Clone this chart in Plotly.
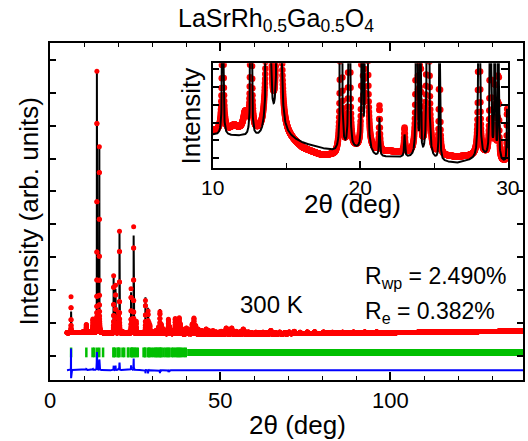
import numpy as np
import plotly.graph_objects as go

# ---------------- data ----------------
# Reflections: 2theta (deg) of the model, observed peak centre, heights above background, FWHM (deg)
peak_pos = [6.195, 10.68, 12.60, 13.78, 14.50, 18.70, 19.25, 20.12, 20.42, 21.30,
            23.00, 23.82, 24.07, 24.58, 25.37, 28.05, 28.82, 29.12, 29.36, 29.95,
            30.50, 31.20, 31.90, 32.30, 32.70, 33.30, 33.90, 34.80, 35.15, 35.60,
            36.20, 36.80, 37.60, 38.00, 38.30, 38.75, 39.40, 40.10, 40.60, 41.10,
            41.80, 42.30, 42.80, 43.50, 44.10, 44.60, 45.30, 45.90, 46.60, 47.30,
            47.90, 48.80, 49.60, 50.30, 51.00, 51.80, 52.60, 53.40, 54.10, 54.70,
            55.50, 56.20, 56.80, 57.60, 58.30, 59.30, 60.50, 61.60, 62.60, 63.60,
            64.90, 66.10, 67.50, 69.00, 70.30, 71.80, 73.50, 75.60, 77.80, 80.40,
            83.00, 86.00, 89.20, 92.50, 96.00]
obs_pos = [6.180, 10.68, 12.60, 13.78, 14.50, 18.70, 19.25, 20.12, 20.42, 21.30,
           23.00, 23.82, 24.07, 24.58, 25.37, 28.05, 28.82, 29.12, 29.36, 29.95,
           30.50, 31.20, 31.90, 32.30, 32.70, 33.30, 33.90, 34.80, 35.15, 35.60,
           36.20, 36.80, 37.60, 38.00, 38.30, 38.75, 39.40, 40.10, 40.60, 41.10,
           41.80, 42.30, 42.80, 43.50, 44.10, 44.60, 45.30, 45.90, 46.60, 47.30,
           47.90, 48.80, 49.60, 50.30, 51.00, 51.80, 52.60, 53.40, 54.10, 54.70,
           55.50, 56.20, 56.80, 57.60, 58.30, 59.30, 60.50, 61.60, 62.60, 63.60,
           64.90, 66.10, 67.50, 69.00, 70.30, 71.80, 73.50, 75.60, 77.80, 80.40,
           83.00, 86.00, 89.20, 92.50, 96.00]
calc_height = [0.68, 0.22, 0.38, 7.90, 5.60, 1.70, 1.35, 0.60, 3.06, 0.043,
               0.025, 1.25, 0.40, 2.98, 0.35, 1.10, 0.78, 0.35, 0.25, 0.06,
               0.05, 0.10, 0.20, 0.75, 0.30, 0.15, 0.06, 0.50, 0.25, 0.08,
               0.10, 0.48, 0.15, 0.50, 0.30, 0.15, 0.08, 0.18, 0.08, 0.12,
               0.30, 0.48, 0.25, 0.15, 0.08, 0.10, 0.06, 0.15, 0.10, 0.08,
               0.10, 0.06, 0.05, 0.08, 0.06, 0.18, 0.12, 0.18, 0.06, 0.08,
               0.05, 0.08, 0.15, 0.06, 0.06, 0.04, 0.05, 0.04, 0.05, 0.04,
               0.10, 0.04, 0.05, 0.04, 0.05, 0.07, 0.04, 0.05, 0.05, 0.04,
               0.03, 0.03, 0.03, 0.03, 0.03]
obs_height = [1.09, 0.24, 0.40, 7.95, 5.65, 1.75, 1.45, 0.62, 3.10, 0.050,
              0.027, 1.35, 0.42, 3.24, 0.36, 1.00, 0.68, 0.32, 0.25, 0.06,
              0.05, 0.10, 0.20, 0.66, 0.28, 0.15, 0.06, 0.44, 0.22, 0.08,
              0.10, 0.46, 0.15, 0.48, 0.30, 0.15, 0.08, 0.18, 0.08, 0.12,
              0.30, 0.48, 0.25, 0.15, 0.08, 0.10, 0.06, 0.15, 0.10, 0.08,
              0.10, 0.06, 0.05, 0.08, 0.06, 0.18, 0.12, 0.18, 0.06, 0.08,
              0.05, 0.08, 0.15, 0.06, 0.06, 0.04, 0.05, 0.04, 0.05, 0.04,
              0.10, 0.04, 0.05, 0.04, 0.05, 0.07, 0.04, 0.05, 0.05, 0.04,
              0.03, 0.03, 0.03, 0.03, 0.03]
calc_fwhm = [0.040, 0.070, 0.060, 0.035, 0.045, 0.035, 0.035, 0.035, 0.035, 0.060,
             0.070, 0.035, 0.035, 0.035, 0.040, 0.045, 0.045, 0.045, 0.045, 0.060,
             0.060, 0.060, 0.060, 0.060, 0.060, 0.060, 0.060, 0.060, 0.060, 0.060,
             0.070, 0.070, 0.070, 0.070, 0.070, 0.070, 0.070, 0.080, 0.080, 0.080,
             0.080, 0.080, 0.080, 0.080, 0.080, 0.080, 0.090, 0.090, 0.090, 0.090,
             0.090, 0.090, 0.090, 0.100, 0.100, 0.100, 0.100, 0.100, 0.100, 0.100,
             0.100, 0.100, 0.100, 0.110, 0.110, 0.110, 0.110, 0.120, 0.120, 0.120,
             0.120, 0.120, 0.130, 0.130, 0.130, 0.130, 0.130, 0.140, 0.140, 0.140,
             0.150, 0.150, 0.150, 0.160, 0.160]
obs_fwhm = [0.030, 0.080, 0.065, 0.040, 0.050, 0.040, 0.040, 0.040, 0.040, 0.060,
            0.070, 0.040, 0.040, 0.040, 0.040, 0.045, 0.045, 0.045, 0.045, 0.060,
            0.060, 0.060, 0.060, 0.060, 0.060, 0.060, 0.060, 0.060, 0.060, 0.060,
            0.070, 0.070, 0.070, 0.070, 0.070, 0.070, 0.070, 0.080, 0.080, 0.080,
            0.080, 0.080, 0.080, 0.080, 0.080, 0.080, 0.090, 0.090, 0.090, 0.090,
            0.090, 0.090, 0.090, 0.100, 0.100, 0.100, 0.100, 0.100, 0.100, 0.100,
            0.100, 0.100, 0.100, 0.110, 0.110, 0.110, 0.110, 0.120, 0.120, 0.120,
            0.120, 0.120, 0.130, 0.130, 0.130, 0.130, 0.130, 0.140, 0.140, 0.140,
            0.150, 0.150, 0.150, 0.160, 0.160]

# Background (calc) and observed-minus-calc background offset at control angles
bg_deg = [5, 8, 10, 12, 13.3, 15.0, 16.1, 17.3, 18.3, 19.6, 21.0, 22.0, 23.5,
          26.5, 28.4, 29.9, 35, 45, 60, 80, 100, 120, 139]
bg_calc = [0.700, 0.704, 0.706, 0.704, 0.700, 0.703, 0.696, 0.691, 0.687, 0.689,
           0.681, 0.681, 0.680, 0.674, 0.680, 0.674, 0.668, 0.662, 0.662, 0.678,
           0.700, 0.725, 0.750]
bg_obs_offset = [0.0, 0.003, 0.004, 0.005, 0.005, 0.0, -0.006, -0.008, -0.005, 0.0,
                 0.006, 0.006, 0.005, 0.007, 0.003, 0.0, 0.0, 0.0, 0.0, 0.0,
                 0.0, 0.0, 0.0]

# Extra observed-only humps (not in the model)
hump_pos = [11.45, 12.20]
hump_height = [0.006, 0.020]
hump_fwhm = [0.50, 0.30]

# Bragg reflection positions (tick marks) and the dense band at high angle
bragg_pos = [6.20, 10.68, 12.50, 13.00, 13.82, 14.47, 15.60, 18.65, 18.72, 19.20,
             19.90, 20.12, 20.42, 21.30, 21.80, 22.90, 23.05, 23.80, 24.07, 24.15,
             24.58, 24.90, 25.37, 25.80, 27.50, 27.90, 28.00, 28.80, 29.10, 29.36,
             29.95, 30.50, 31.00, 31.20, 31.60, 31.90, 32.30, 32.50, 32.70, 33.30,
             33.90, 34.40, 34.80, 35.15, 35.90, 36.20, 36.80, 37.30, 37.60, 38.00,
             38.30, 38.75, 39.40, 39.90]
bragg_band_start = [40.3]
bragg_band_end = [139.0]

scan_start, scan_end, scan_step = 5.0, 139.0, 0.01
bragg_level = 0.10
diff_offset = -0.44

# ---------------- profiles ----------------
tt = np.arange(scan_start, scan_end + scan_step / 2, scan_step)


def lorentz_sum(x, pos, h, w):
    pos = np.asarray(pos)[None, :]
    h = np.asarray(h)[None, :]
    w = np.asarray(w)[None, :]
    return (h / (1.0 + (2.0 * (x[:, None] - pos) / w) ** 2)).sum(axis=1)


bg = np.interp(tt, bg_deg, bg_calc)
calc = bg + lorentz_sum(tt, peak_pos, calc_height, calc_fwhm)
obs = (bg + np.interp(tt, bg_deg, bg_obs_offset)
       + lorentz_sum(tt, obs_pos, obs_height, obs_fwhm)
       + lorentz_sum(tt, hump_pos, hump_height, hump_fwhm))
diff = obs - calc + diff_offset

sel = (tt >= 10.0) & (tt <= 30.0)

RED = "#ff0000"
GREEN = "#00bf00"
BLUE = "#0000ff"
FONT = "Liberation Sans, Arial, sans-serif"

fig = go.Figure()

# main panel
fig.add_trace(go.Scatter(x=tt, y=calc, mode="lines", line=dict(color="black", width=2),
                         xaxis="x", yaxis="y", hoverinfo="skip"))
fig.add_trace(go.Scatter(x=tt, y=obs, mode="markers",
                         marker=dict(color=RED, size=5, line=dict(width=0)),
                         xaxis="x", yaxis="y", hoverinfo="skip"))
fig.add_trace(go.Scatter(x=bragg_pos, y=[bragg_level] * len(bragg_pos), mode="markers",
                         marker=dict(symbol="line-ns", size=7, line=dict(color=GREEN, width=2.5)),
                         xaxis="x", yaxis="y", hoverinfo="skip"))
band_x, band_y = [], []
for s, e in zip(bragg_band_start, bragg_band_end):
    band_x += [s, e, None]
    band_y += [bragg_level, bragg_level, None]
fig.add_trace(go.Scatter(x=band_x, y=band_y, mode="lines", line=dict(color=GREEN, width=7),
                         xaxis="x", yaxis="y", hoverinfo="skip"))
fig.add_trace(go.Scatter(x=tt, y=diff, mode="lines", line=dict(color=BLUE, width=2),
                         xaxis="x", yaxis="y", hoverinfo="skip"))

# inset
fig.add_trace(go.Scatter(x=tt[sel], y=obs[sel], mode="markers",
                         marker=dict(color=RED, size=6.5, line=dict(width=0)),
                         xaxis="x2", yaxis="y2", hoverinfo="skip"))
fig.add_trace(go.Scatter(x=tt[sel], y=calc[sel], mode="lines", line=dict(color="black", width=2),
                         xaxis="x2", yaxis="y2", hoverinfo="skip"))

axis_common = dict(showline=True, linecolor="black", linewidth=1.5, showgrid=False,
                   zeroline=False, ticks="inside", tickcolor="black", tickwidth=1.5,
                   automargin=False)

fig.update_layout(
    width=528, height=441,
    margin=dict(l=50, r=5, t=43, b=61),
    paper_bgcolor="white", plot_bgcolor="white",
    showlegend=False,
    font=dict(family=FONT, color="black", size=22),
    xaxis=dict(**axis_common, range=[0, 139], tick0=0, dtick=50, ticklen=8, mirror="ticks",
               minor=dict(dtick=10, ticks="inside", ticklen=4, tickcolor="black", tickwidth=1.2),
               tickfont=dict(size=22)),
    yaxis=dict(**axis_common, range=[-0.74, 9.52], tick0=0, dtick=1, ticklen=6, mirror="ticks",
               showticklabels=False),
    xaxis2=dict(**axis_common, domain=[0.344, 0.968], anchor="y2", range=[10, 30], tick0=10,
                dtick=10, ticklen=7, mirror=True,
                minor=dict(dtick=5, ticks="inside", ticklen=5, tickcolor="black", tickwidth=1.2),
                tickfont=dict(size=21)),
    yaxis2=dict(**axis_common, domain=[0.629, 0.940], anchor="x2", range=[0.669, 0.787],
                tick0=0.68, dtick=0.02, ticklen=7, mirror="ticks", showticklabels=False),
    annotations=[
        dict(text="LaSrRh<sub>0.5</sub>Ga<sub>0.5</sub>O<sub>4</sub>", x=0.478, y=1.068,
             xref="paper", yref="paper", showarrow=False, xanchor="center", yanchor="middle",
             font=dict(size=25)),
        # main axis titles
        dict(text="2θ (deg)", x=0.524, y=-0.1335, xref="paper", yref="paper", showarrow=False,
             xanchor="center", yanchor="middle", font=dict(size=26)),
        dict(text="Intensity (arb. units)", x=-0.0465, y=0.5, xref="paper", yref="paper",
             showarrow=False, textangle=-90, xanchor="center", yanchor="middle",
             font=dict(size=26)),
        # inset axis titles
        dict(text="Intensity", x=0.298, y=0.7846, xref="paper", yref="paper", showarrow=False,
             textangle=-90, xanchor="center", yanchor="middle", font=dict(size=26)),
        dict(text="2θ (deg)", x=0.6395, y=0.522, xref="paper", yref="paper", showarrow=False,
             xanchor="center", yanchor="middle", font=dict(size=26)),
        dict(text="300 K", x=0.468, y=0.2226, xref="paper", yref="paper", showarrow=False,
             xanchor="center", yanchor="middle", font=dict(size=24)),
        dict(text="R<sub>wp</sub> = 2.490%", x=0.662, y=0.303, xref="paper", yref="paper",
             showarrow=False, xanchor="left", yanchor="middle", font=dict(size=23)),
        dict(text="R<sub>e</sub> = 0.382%", x=0.662, y=0.199, xref="paper", yref="paper",
             showarrow=False, xanchor="left", yanchor="middle", font=dict(size=23)),
    ],
)

fig.write_html("out.html")
